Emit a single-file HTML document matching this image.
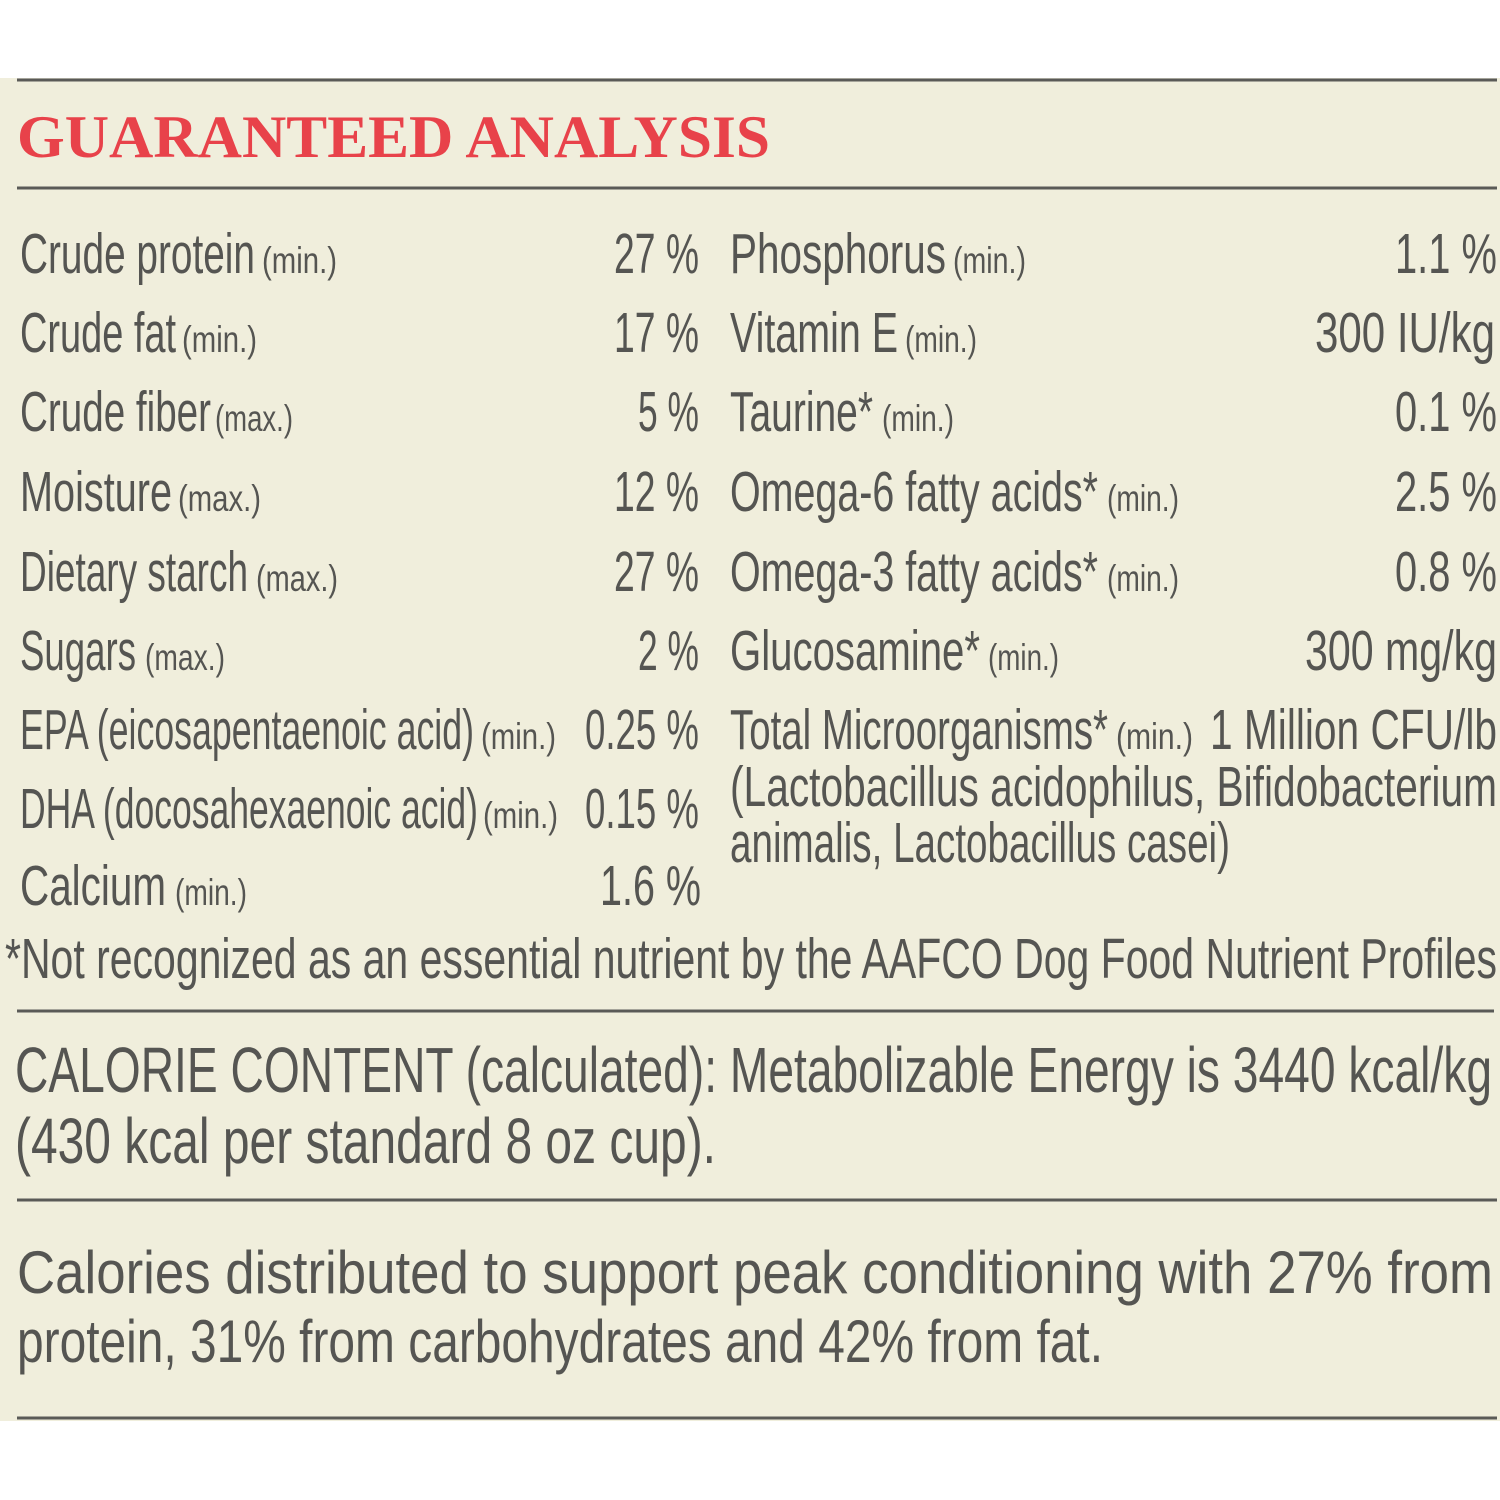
<!DOCTYPE html>
<html><head><meta charset="utf-8"><style>
html,body{margin:0;padding:0;background:#fff;}
svg{display:block;}
text{font-family:"Liberation Sans",sans-serif;fill:#555552;}
.m{font-size:57px;}
.s{font-size:37px;}
.r{text-anchor:end;}
</style></head><body>
<svg width="1500" height="1500" viewBox="0 0 1500 1500" xmlns="http://www.w3.org/2000/svg">
<rect x="0" y="78" width="1500" height="1343" fill="#f0eedc"/>
<g stroke="#5a5a57" stroke-width="3">
<line x1="17" y1="80" x2="1497" y2="80"/>
<line x1="17" y1="188" x2="1497" y2="188"/>
<line x1="17" y1="1011" x2="1494" y2="1011"/>
<line x1="17" y1="1200" x2="1497" y2="1200"/>
<line x1="17" y1="1418" x2="1497" y2="1418"/>
</g>
<text x="17" y="157" style="font-family:'Liberation Serif',serif;font-weight:bold;font-size:60px;fill:#e8424a" textLength="753" lengthAdjust="spacingAndGlyphs">GUARANTEED ANALYSIS</text>
<g class="m" lengthAdjust="spacingAndGlyphs">
<text class="m" x="20" y="273" textLength="235" lengthAdjust="spacingAndGlyphs">Crude protein</text>
<text class="s" x="262" y="273" textLength="75" lengthAdjust="spacingAndGlyphs">(min.)</text>
<text class="m" x="614" y="273" textLength="85" lengthAdjust="spacingAndGlyphs">27 %</text>
<text class="m" x="20" y="352" textLength="156" lengthAdjust="spacingAndGlyphs">Crude fat</text>
<text class="s" x="182" y="352" textLength="75" lengthAdjust="spacingAndGlyphs">(min.)</text>
<text class="m" x="614" y="352" textLength="85" lengthAdjust="spacingAndGlyphs">17 %</text>
<text class="m" x="20" y="431" textLength="191" lengthAdjust="spacingAndGlyphs">Crude fiber</text>
<text class="s" x="215" y="431" textLength="78" lengthAdjust="spacingAndGlyphs">(max.)</text>
<text class="m" x="638" y="431" textLength="61" lengthAdjust="spacingAndGlyphs">5 %</text>
<text class="m" x="20" y="511" textLength="152" lengthAdjust="spacingAndGlyphs">Moisture</text>
<text class="s" x="178" y="511" textLength="83" lengthAdjust="spacingAndGlyphs">(max.)</text>
<text class="m" x="614" y="511" textLength="85" lengthAdjust="spacingAndGlyphs">12 %</text>
<text class="m" x="20" y="591" textLength="228" lengthAdjust="spacingAndGlyphs">Dietary starch</text>
<text class="s" x="256" y="591" textLength="82" lengthAdjust="spacingAndGlyphs">(max.)</text>
<text class="m" x="614" y="591" textLength="85" lengthAdjust="spacingAndGlyphs">27 %</text>
<text class="m" x="20" y="670" textLength="116" lengthAdjust="spacingAndGlyphs">Sugars</text>
<text class="s" x="145" y="670" textLength="80" lengthAdjust="spacingAndGlyphs">(max.)</text>
<text class="m" x="638" y="670" textLength="61" lengthAdjust="spacingAndGlyphs">2 %</text>
<text class="m" x="20" y="749" textLength="454" lengthAdjust="spacingAndGlyphs">EPA (eicosapentaenoic acid)</text>
<text class="s" x="481" y="749" textLength="75" lengthAdjust="spacingAndGlyphs">(min.)</text>
<text class="m" x="585" y="749" textLength="114" lengthAdjust="spacingAndGlyphs">0.25 %</text>
<text class="m" x="20" y="828" textLength="458" lengthAdjust="spacingAndGlyphs">DHA (docosahexaenoic acid)</text>
<text class="s" x="483" y="828" textLength="75" lengthAdjust="spacingAndGlyphs">(min.)</text>
<text class="m" x="585" y="828" textLength="114" lengthAdjust="spacingAndGlyphs">0.15 %</text>
<text class="m" x="20" y="905" textLength="146" lengthAdjust="spacingAndGlyphs">Calcium</text>
<text class="s" x="175" y="905" textLength="72" lengthAdjust="spacingAndGlyphs">(min.)</text>
<text class="m" x="600" y="905" textLength="101" lengthAdjust="spacingAndGlyphs">1.6 %</text>

<text class="m" x="730" y="273" textLength="216" lengthAdjust="spacingAndGlyphs">Phosphorus</text>
<text class="s" x="953" y="273" textLength="73" lengthAdjust="spacingAndGlyphs">(min.)</text>
<text class="m" x="1395" y="273" textLength="102" lengthAdjust="spacingAndGlyphs">1.1 %</text>
<text class="m" x="730" y="352" textLength="168" lengthAdjust="spacingAndGlyphs">Vitamin E</text>
<text class="s" x="905" y="352" textLength="72" lengthAdjust="spacingAndGlyphs">(min.)</text>
<text class="m" x="1315" y="352" textLength="180" lengthAdjust="spacingAndGlyphs">300 IU/kg</text>
<text class="m" x="730" y="431" textLength="143" lengthAdjust="spacingAndGlyphs">Taurine*</text>
<text class="s" x="882" y="431" textLength="72" lengthAdjust="spacingAndGlyphs">(min.)</text>
<text class="m" x="1395" y="431" textLength="102" lengthAdjust="spacingAndGlyphs">0.1 %</text>
<text class="m" x="730" y="511" textLength="368" lengthAdjust="spacingAndGlyphs">Omega-6 fatty acids*</text>
<text class="s" x="1107" y="511" textLength="72" lengthAdjust="spacingAndGlyphs">(min.)</text>
<text class="m" x="1395" y="511" textLength="102" lengthAdjust="spacingAndGlyphs">2.5 %</text>
<text class="m" x="730" y="591" textLength="368" lengthAdjust="spacingAndGlyphs">Omega-3 fatty acids*</text>
<text class="s" x="1107" y="591" textLength="72" lengthAdjust="spacingAndGlyphs">(min.)</text>
<text class="m" x="1395" y="591" textLength="102" lengthAdjust="spacingAndGlyphs">0.8 %</text>
<text class="m" x="730" y="670" textLength="250" lengthAdjust="spacingAndGlyphs">Glucosamine*</text>
<text class="s" x="988" y="670" textLength="71" lengthAdjust="spacingAndGlyphs">(min.)</text>
<text class="m" x="1305" y="670" textLength="192" lengthAdjust="spacingAndGlyphs">300 mg/kg</text>
<text class="m" x="730" y="749" textLength="378" lengthAdjust="spacingAndGlyphs">Total Microorganisms*</text>
<text class="s" x="1116" y="749" textLength="77" lengthAdjust="spacingAndGlyphs">(min.)</text>
<text class="m" x="1210" y="749" textLength="287" lengthAdjust="spacingAndGlyphs">1 Million CFU/lb</text>
<text class="m" x="730" y="806" textLength="767" lengthAdjust="spacingAndGlyphs">(Lactobacillus acidophilus, Bifidobacterium</text>
<text class="m" x="730" y="862" textLength="500" lengthAdjust="spacingAndGlyphs">animalis, Lactobacillus casei)</text>

<text class="m" x="5" y="978" textLength="1492" lengthAdjust="spacingAndGlyphs">*Not recognized as an essential nutrient by the AAFCO Dog Food Nutrient Profiles</text>
<text x="15" y="1092" style="font-size:64px" textLength="1477" lengthAdjust="spacingAndGlyphs">CALORIE CONTENT (calculated): Metabolizable Energy is 3440 kcal/kg</text>
<text x="15" y="1163" style="font-size:64px" textLength="701" lengthAdjust="spacingAndGlyphs">(430 kcal per standard 8 oz cup).</text>
<text x="17" y="1293" style="font-size:60px" textLength="1476" lengthAdjust="spacingAndGlyphs">Calories distributed to support peak conditioning with 27% from</text>
<text x="17" y="1362" style="font-size:60px" textLength="1086" lengthAdjust="spacingAndGlyphs">protein, 31% from carbohydrates and 42% from fat.</text>
</g>
</svg>
</body></html>
